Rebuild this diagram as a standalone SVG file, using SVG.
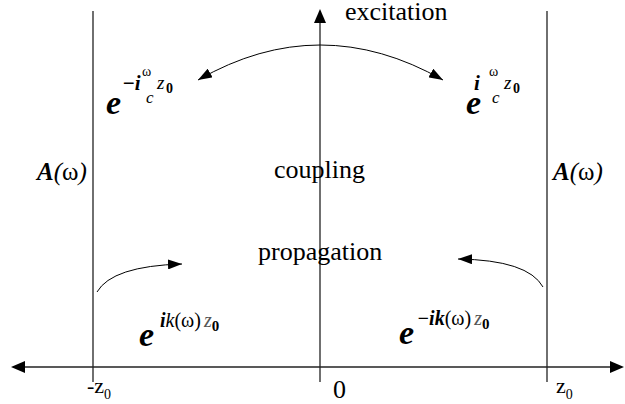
<svg xmlns="http://www.w3.org/2000/svg" width="625" height="404" viewBox="0 0 625 404">
<defs>
<marker id="ah" viewBox="0 0 14 10" refX="14" refY="5" markerWidth="14" markerHeight="10" markerUnits="userSpaceOnUse" orient="auto-start-reverse">
<path d="M0,0 L14,5 L0,10 Z" fill="#000"/>
</marker>
<style>
.ax{stroke:#222;stroke-width:1.3;fill:none}
.cv{stroke:#000;stroke-width:1;fill:none}
.t{font-family:"Liberation Serif","Times New Roman",serif;fill:#000}
.lab{font-size:26px}
.e{font-size:34px;font-weight:bold;font-style:italic}
.bi{font-weight:bold;font-style:italic}
.it{font-style:italic}
</style>
</defs>
<rect width="625" height="404" fill="#fff"/>
<g id="connectors">
<line class="ax" x1="93" y1="11" x2="93" y2="382"/>
<line class="ax" x1="547" y1="11" x2="547" y2="382"/>
<line class="ax" x1="320" y1="382" x2="320" y2="22"/>
<path d="M320,9 L326,23 L314,23 Z" fill="#000"/>
<line class="ax" x1="24" y1="367" x2="612" y2="367"/>
<path d="M11,367 L25,361 L25,373 Z" fill="#000"/>
<path d="M624,367 L610,361 L610,373 Z" fill="#000"/>
<path class="cv" d="M198,80 Q320,10 443,80" marker-start="url(#ah)" marker-end="url(#ah)"/>
<path class="cv" d="M97,292 Q112,266 182,264" marker-end="url(#ah)"/>
<path class="cv" d="M543,287 Q528,260 458,259" marker-end="url(#ah)"/>
</g>
<g id="excitation"><text class="t lab" x="345" y="20">excitation</text></g>
<g id="coupling"><text class="t lab" x="274" y="178">coupling</text></g>
<g id="propagation"><text class="t lab" x="258" y="260">propagation</text></g>
<g id="A-left"><text class="t" x="37" y="180" font-size="25"><tspan class="bi">A</tspan><tspan class="it">(</tspan>ω<tspan class="it">)</tspan></text></g>
<g id="A-right"><text class="t" x="553" y="180" font-size="25"><tspan class="bi">A</tspan><tspan class="it">(</tspan>ω<tspan class="it">)</tspan></text></g>
<g id="exp-left-top">
<text class="t e" x="106" y="114">e</text>
<text class="t bi" x="122" y="90" font-size="21">−i</text>
<text class="t" x="142" y="76" font-size="14">ω</text>
<text class="t it" x="146" y="103" font-size="17">c</text>
<text class="t it" x="157" y="89" font-size="19" fill="#555">z</text>
<text class="t" x="166" y="93" font-size="14" font-weight="bold">0</text>
</g>
<g id="exp-right-top">
<text class="t e" x="466" y="114">e</text>
<text class="t bi" x="474" y="90" font-size="21">i</text>
<text class="t" x="489" y="76" font-size="14">ω</text>
<text class="t it" x="492" y="103" font-size="17">c</text>
<text class="t it" x="504" y="89" font-size="19" fill="#555">z</text>
<text class="t" x="513" y="93" font-size="14" font-weight="bold">0</text>
</g>
<g id="exp-left-bottom">
<text class="t e" x="139" y="346">e</text>
<text class="t" x="160" y="327" font-size="20"><tspan class="bi">i</tspan><tspan class="it">k</tspan>(ω)<tspan class="it" dx="3" fill="#555">z</tspan><tspan dy="4" font-size="15" font-weight="bold">0</tspan></text>
</g>
<g id="exp-right-bottom">
<text class="t e" x="399" y="344">e</text>
<text class="t" x="417" y="325" font-size="20"><tspan class="bi">−ik</tspan>(ω)<tspan class="it" dx="3" fill="#555">z</tspan><tspan dy="4" font-size="15" font-weight="bold">0</tspan></text>
</g>
<g id="tick-neg"><text class="t" x="87" y="393" font-size="22">-z<tspan dy="6" font-size="14">0</tspan></text></g>
<g id="tick-zero"><text class="t" x="333" y="398" font-size="26">0</text></g>
<g id="tick-pos"><text class="t" x="556" y="393" font-size="22">z<tspan dy="6" font-size="14">0</tspan></text></g>
</svg>
